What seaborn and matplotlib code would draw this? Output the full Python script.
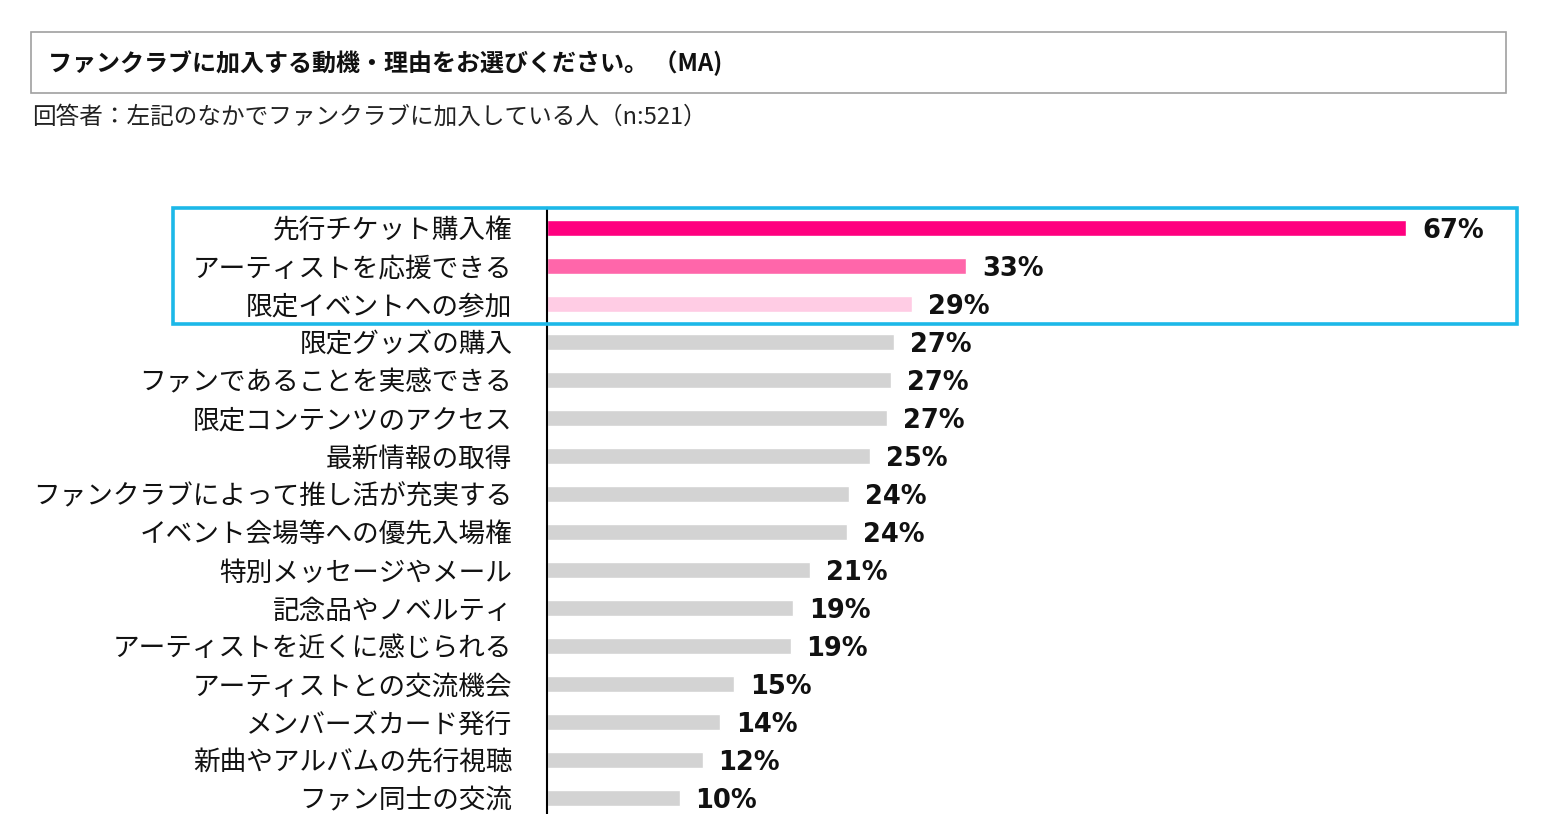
import matplotlib
matplotlib.use("Agg")
import matplotlib.pyplot as plt
import seaborn as sns
from matplotlib.patches import Rectangle

title = "ファンクラブに加入する動機・理由をお選びください。 （MA)"
subtitle = "回答者：左記のなかでファンクラブに加入している人（n:521）"

categories = [
    "先行チケット購入権",
    "アーティストを応援できる",
    "限定イベントへの参加",
    "限定グッズの購入",
    "ファンであることを実感できる",
    "限定コンテンツのアクセス",
    "最新情報の取得",
    "ファンクラブによって推し活が充実する",
    "イベント会場等への優先入場権",
    "特別メッセージやメール",
    "記念品やノベルティ",
    "アーティストを近くに感じられる",
    "アーティストとの交流機会",
    "メンバーズカード発行",
    "新曲やアルバムの先行視聴",
    "ファン同士の交流",
]
values = [67.4, 32.9, 28.6, 27.2, 27.0, 26.7, 25.3, 23.7, 23.5, 20.6,
          19.3, 19.1, 14.7, 13.6, 12.2, 10.4]
bar_colors = ["#FF007F", "#FF66AA", "#FFCCE4"] + ["#D3D3D3"] * 13

sns.set_theme(style="white")
plt.rcParams["font.family"] = ["Noto Sans CJK JP", "DejaVu Sans"]

W, H = 1556, 814
fig = plt.figure(figsize=(W / 100, H / 100), dpi=100)
ax = fig.add_axes([547 / W, 0, 1 - 547 / W, (814 - 208) / H])

sns.barplot(x=values, y=categories, hue=categories, palette=bar_colors,
            legend=False, width=0.42, orient="h", ax=ax, saturation=1)

# value labels (bold, wide sans like the original)
for i, v in enumerate(values):
    ax.text(v + 1.25, i + 0.07, f"{v:.0f}%", va="center", ha="left",
            fontsize=18.5, fontweight="bold", family="DejaVu Sans",
            color="#111111")

ax.set_xlim(0, (W - 547) / 12.75)
ax.set_ylim(15.42, -0.53)
ax.set_xlabel("")
ax.set_ylabel("")
ax.set_xticks([])
ax.tick_params(axis="y", length=0, pad=25, labelsize=19.2, labelcolor="#111111")
for s in ["top", "right", "bottom"]:
    ax.spines[s].set_visible(False)
ax.spines["left"].set_color("black")
ax.spines["left"].set_linewidth(1.5)

# title box
fig.patches.append(Rectangle((31 / W, 1 - 93 / H), (1506 - 31) / W, 61 / H,
                             transform=fig.transFigure, fill=False,
                             edgecolor="#A0A0A0", linewidth=1.2))
fig.text(48 / W, 1 - 63 / H, title, fontsize=17.3, fontweight="bold",
         va="center", ha="left", color="#111111")
fig.text(32 / W, 1 - 117 / H, subtitle, fontsize=17, va="center",
         ha="left", color="#222222")

# highlight box around top 3
fig.patches.append(Rectangle((173 / W, 1 - 324 / H), (1517 - 173) / W,
                             (324 - 208) / H, transform=fig.transFigure,
                             fill=False, edgecolor="#1CB8E8", linewidth=2.6,
                             zorder=10))

fig.savefig("out.png", dpi=100)
